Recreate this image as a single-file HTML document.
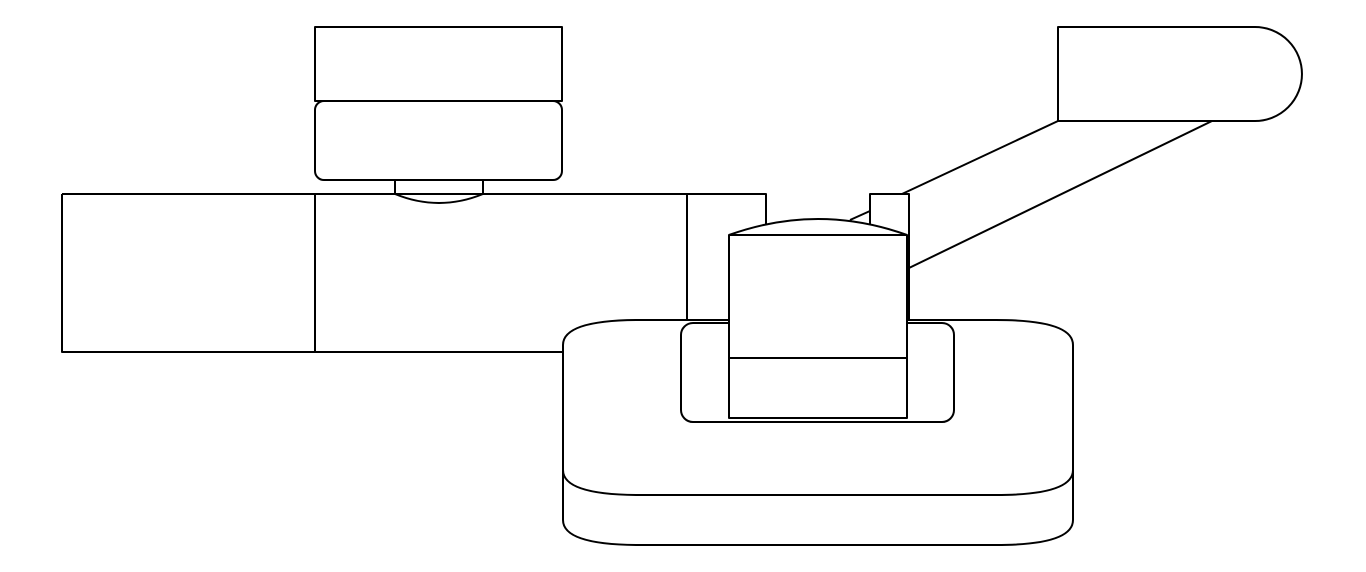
<!DOCTYPE html>
<html><head><meta charset="utf-8"><style>html,body{margin:0;padding:0;background:#fff}svg{display:block}</style></head>
<body>
<svg width="1366" height="572" viewBox="0 0 1366 572" xmlns="http://www.w3.org/2000/svg" fill="none" stroke="#000" stroke-width="2" stroke-linejoin="round">
<!-- left top block -->
<rect x="315" y="27" width="247" height="74" fill="#fff"/>
<rect x="315" y="101" width="247" height="79" rx="9" fill="#fff"/>
<path d="M395 180 V194 M483 180 V194 M395 194 Q439 212 483 194"/>
<!-- main bar -->
<path d="M62 194 H766 V225 M62 194 V352 H563 M315 194 V352 M687 194 V320"/>
<!-- arm -->
<path d="M902 194 L1058 121 M909 268 L1212 121 M850 220 L870 211"/>
<path d="M1058 27 H1255 A47 47 0 0 1 1255 121 H1058 Z" fill="#fff"/>
<rect x="870" y="194" width="39" height="126" fill="#fff"/>
<!-- base -->
<path d="M563 345 Q563 320 640 320 H996 Q1073 320 1073 345 V520 Q1073 545 996 545 H640 Q563 545 563 520 Z" fill="#fff"/>
<path d="M563 470 Q563 495 640 495 H996 Q1073 495 1073 470"/>
<rect x="681" y="323" width="273" height="99" rx="12" fill="#fff"/>
<!-- column -->
<path d="M729 235 Q818 203 907 235" fill="#fff"/>
<rect x="729" y="235" width="178" height="183" fill="#fff"/>
<path d="M729 358 H907"/>
</svg>
</body></html>
